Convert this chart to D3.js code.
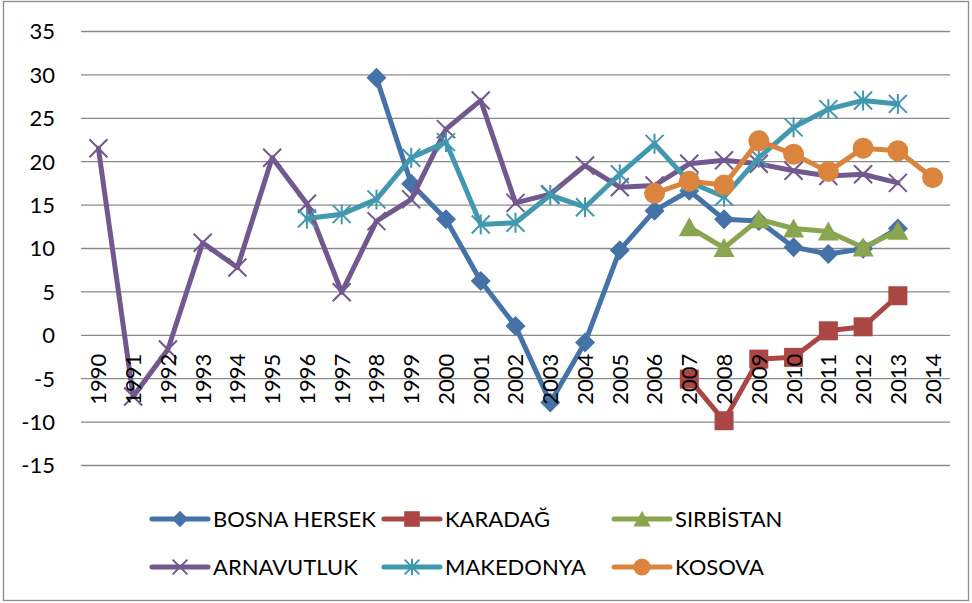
<!DOCTYPE html>
<html><head><meta charset="utf-8">
<script src="https://cdn.jsdelivr.net/npm/d3@7"></script>
<style>
body{margin:0;background:#fff}
svg{display:block}
text{font-family:Lato,"Open Sans",sans-serif;fill:#000}
</style>
</head><body>
<svg id="c" width="972" height="603"></svg>
<script>
const years = ["1990","1991","1992","1993","1994","1995","1996","1997","1998","1999","2000","2001","2002","2003","2004","2005","2006","2007","2008","2009","2010","2011","2012","2013","2014"];
const yTicks = [-15,-10,-5,0,5,10,15,20,25,30,35];

const bosnaHersek = [null,null,null,null,null,null,null,null,29.6,17.4,13.3,6.2,1.0,-7.8,-0.9,9.75,14.3,16.6,13.3,13.1,10.1,9.3,9.9,12.25,null];
const karadag     = [null,null,null,null,null,null,null,null,null,null,null,null,null,null,null,null,null,-5.1,-9.9,-2.8,-2.6,0.46,0.92,4.5,null];
const sirbistan   = [null,null,null,null,null,null,null,null,null,null,null,null,null,null,null,null,null,12.4,10.0,13.3,12.25,11.9,10.06,12.0,null];
const arnavutluk  = [21.5,-7.1,-1.7,10.6,7.75,20.4,15.1,4.9,13.1,15.6,23.7,27.0,15.2,16.2,19.5,17.0,17.2,19.7,20.1,19.7,18.9,18.3,18.5,17.5,null];
const makedonya   = [null,null,null,null,null,null,13.4,13.9,15.6,20.4,22.2,12.7,12.9,16.1,14.7,18.5,22.0,17.6,15.9,20.4,23.9,26.0,27.0,26.6,null];
const kosova      = [null,null,null,null,null,null,null,null,null,null,null,null,null,null,null,null,16.3,17.7,17.25,22.35,20.8,18.8,21.5,21.2,18.1];

const seriesNames  = ["BOSNA HERSEK","KARADAĞ","SIRBİSTAN","ARNAVUTLUK","MAKEDONYA","KOSOVA"];
const seriesValues = [bosnaHersek, karadag, sirbistan, arnavutluk, makedonya, kosova];
const seriesColors = ["#4572A7","#AA4643","#89A54E","#71588F","#4198AF","#DB843D"];
const seriesMarkers = ["diamond","square","triangle","x","asterisk","circle"];

const svg = d3.select("#c");
const L = 81, R = 950, T = 31, B = 465;

svg.append("rect").attr("x",3.5).attr("y",1.5).attr("width",965).attr("height",599)
  .attr("fill","#fff").attr("stroke","#8c8c8c").attr("stroke-width",1.3);

const x = d3.scaleBand().domain(years).range([L,R]);
const cx = d => x(d) + x.bandwidth()/2;
const y = d3.scaleLinear().domain([-15,35]).range([B,T]);

// y axis with gridlines
const gy = svg.append("g").attr("transform",`translate(${L},0)`)
  .call(d3.axisLeft(y).tickValues(yTicks).tickSize(-(R-L)).tickPadding(26).tickFormat(d => String(d)));
gy.select(".domain").remove();
gy.selectAll(".tick line").attr("stroke","#8a8a8a").attr("stroke-width",1.3);
gy.selectAll(".tick text").attr("font-size",22).attr("dy","0.36em")
  .style("font-family","Lato, 'Open Sans', sans-serif").attr("fill","#000");

function drawMarker(g, type, color, px, py, s) {
  const k = s || 1;
  if (type === "diamond") {
    g.append("path").attr("d",`M${px},${py-10*k}L${px+10*k},${py}L${px},${py+10*k}L${px-10*k},${py}Z`).attr("fill",color);
  } else if (type === "square") {
    g.append("rect").attr("x",px-9.5*k).attr("y",py-9.5*k).attr("width",19*k).attr("height",19*k).attr("fill",color);
  } else if (type === "triangle") {
    g.append("path").attr("d",`M${px},${py-10*k}L${px+10.5*k},${py+9*k}L${px-10.5*k},${py+9*k}Z`).attr("fill",color);
  } else if (type === "circle") {
    g.append("circle").attr("cx",px).attr("cy",py).attr("r",10.5*k).attr("fill",color);
  } else if (type === "x" || type === "asterisk") {
    const a = 9*k;
    g.append("path").attr("d",`M${px-a},${py-a}L${px+a},${py+a}M${px-a},${py+a}L${px+a},${py-a}` + (type==="asterisk" ? `M${px},${py-10*k}L${px},${py+10*k}` : ""))
      .attr("stroke",color).attr("stroke-width",2).attr("fill","none");
  }
}

const line = d3.line().defined(d => d.v !== null).x(d => cx(d.year)).y(d => y(d.v));

seriesValues.forEach((vals, i) => {
  const data = years.map((yr, j) => ({year: yr, v: vals[j]}));
  const g = svg.append("g");
  g.append("path").datum(data).attr("d", line).attr("fill","none")
    .attr("stroke", seriesColors[i]).attr("stroke-width",5)
    .attr("stroke-linejoin","round").attr("stroke-linecap","round");
  data.filter(d => d.v !== null).forEach(d => drawMarker(g, seriesMarkers[i], seriesColors[i], cx(d.year), y(d.v)));
});

// x axis labels at zero, drawn above the series
const gx = svg.append("g").attr("transform",`translate(0,${y(0)})`)
  .call(d3.axisBottom(x).tickSize(0));
gx.select(".domain").remove();
gx.selectAll(".tick text").attr("font-size",22)
  .style("font-family","Lato, 'Open Sans', sans-serif").attr("fill","#000")
  .attr("transform","rotate(-90)").attr("text-anchor","end")
  .attr("x",-19).attr("y",0).attr("dy","0.36em");

// legend
const legCols = [152, 384, 614];
const legRows = [519, 567];
seriesNames.forEach((name, i) => {
  const lx = legCols[i % 3], ly = legRows[Math.floor(i / 3)];
  const g = svg.append("g");
  g.append("line").attr("x1",lx).attr("x2",lx+56).attr("y1",ly).attr("y2",ly)
    .attr("stroke",seriesColors[i]).attr("stroke-width",5).attr("stroke-linecap","round");
  drawMarker(g, seriesMarkers[i], seriesColors[i], lx+28, ly, 0.82);
  g.append("text").attr("x",lx+61).attr("y",ly).attr("dy","0.36em").attr("font-size",22).text(name);
});
</script>
</body></html>
